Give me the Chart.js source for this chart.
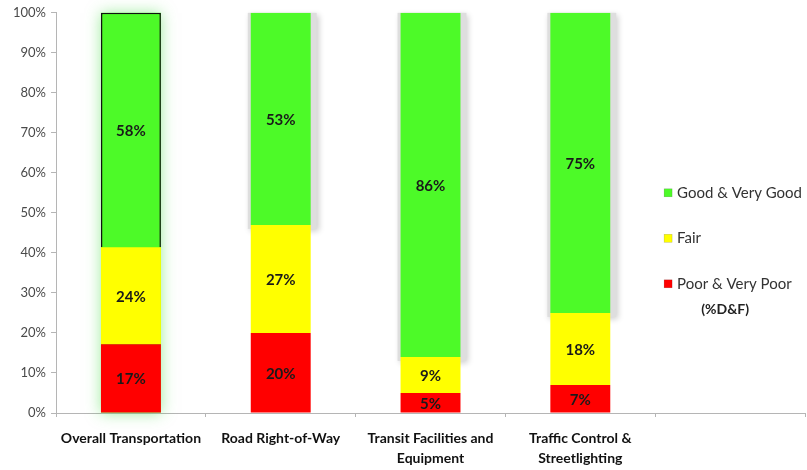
<!DOCTYPE html>
<html>
<head>
<meta charset="utf-8">
<script src="https://cdn.jsdelivr.net/npm/chart.js@4.4.1/dist/chart.umd.min.js"></script>
<style>
  html, body { margin: 0; padding: 0; background: #fff; }
  #wrap { width: 807px; height: 470px; position: relative; }
</style>
</head>
<body>
<div id="wrap"><canvas id="rating"></canvas></div>
<script>
// categories (last slot left empty, legend sits there)
const categories = [
  'Overall Transportation',
  'Road Right-of-Way',
  ['Transit Facilities and', 'Equipment'],
  ['Traffic Control &', 'Streetlighting'],
  ''
];
const poorValues = [17, 20, 5, 7];
const fairValues = [24, 27, 9, 18];
const goodValues = [58, 53, 86, 75];
const yTicks = [0, 10, 20, 30, 40, 50, 60, 70, 80, 90, 100];

// 100% stacked: scale each column to its total
const totals = poorValues.map((v, i) => v + fairValues[i] + goodValues[i]);
const toShare = arr => arr.map((v, i) => v / totals[i] * 100);

const labelFont = "Lato, 'Open Sans', Arial, sans-serif";

// shadows / glow behind the bars
const barShadow = {
  id: 'barShadow',
  beforeDatasetsDraw(chart) {
    const ctx = chart.ctx;
    const red = chart.getDatasetMeta(0).data;
    const green = chart.getDatasetMeta(2).data;
    green.forEach((el, i) => {
      const p = el.getProps(['x', 'y', 'width', 'base'], true);
      const left = p.x - p.width / 2;
      ctx.save();
      if (i === 0) {
        const bottom = red[i].getProps(['base'], true).base;
        ctx.shadowColor = 'rgba(60, 220, 60, 0.5)';
        ctx.shadowBlur = 14;
        ctx.fillStyle = '#4dfa28';
        ctx.fillRect(left, p.y, p.width, bottom - p.y);
      } else {
        ctx.shadowColor = 'rgba(0, 0, 0, 0.2)';
        ctx.shadowBlur = 6;
        ctx.shadowOffsetX = 2;
        ctx.shadowOffsetY = 2;
        ctx.fillStyle = '#dedede';
        ctx.fillRect(left - 3, p.y, p.width + 9, p.base - p.y + 4);
      }
      ctx.restore();
    });
  }
};

// value labels in each segment
const segmentLabels = {
  id: 'segmentLabels',
  afterDatasetsDraw(chart) {
    const ctx = chart.ctx;
    const raw = [poorValues, fairValues, goodValues];
    ctx.save();
    ctx.font = "bold 15px " + labelFont;
    ctx.fillStyle = '#1a1a1a';
    ctx.textAlign = 'center';
    ctx.textBaseline = 'middle';
    chart.data.datasets.forEach((ds, d) => {
      chart.getDatasetMeta(d).data.forEach((el, i) => {
        if (raw[d][i] === undefined) return;
        const p = el.getProps(['x', 'y', 'base'], true);
        ctx.fillText(raw[d][i] + '%', p.x, (p.y + p.base) / 2 + 1);
      });
    });
    ctx.restore();
  }
};

// legend drawn in the empty fifth slot
const sideLegend = {
  id: 'sideLegend',
  afterDraw(chart) {
    const ctx = chart.ctx;
    const x = chart.scales.x.getPixelForValue(4) - 66;
    const top = chart.chartArea.top;
    const rows = [2, 1, 0];
    ctx.save();
    ctx.textBaseline = 'middle';
    rows.forEach((d, k) => {
      const ds = chart.data.datasets[d];
      const y = top + 180 + k * 45.5;
      ctx.fillStyle = ds.backgroundColor;
      ctx.fillRect(x, y - 4, 8, 8);
      ctx.strokeStyle = 'rgba(0,0,0,0.25)';
      ctx.lineWidth = 0.5;
      ctx.strokeRect(x, y - 4, 8, 8);
      ctx.fillStyle = '#333';
      ctx.font = "15px " + labelFont;
      ctx.textAlign = 'left';
      ctx.fillText(ds.label, x + 13, y);
    });
    ctx.font = "bold 14px " + labelFont;
    ctx.fillStyle = '#222';
    ctx.textAlign = 'center';
    ctx.fillText('(%D&F)', x + 61, top + 297);
    ctx.restore();
  }
};

new Chart(document.getElementById('rating'), {
  type: 'bar',
  data: {
    labels: categories,
    datasets: [{
      label: 'Poor & Very Poor',
      data: toShare(poorValues),
      backgroundColor: '#ff0000',
      borderWidth: 0
    }, {
      label: 'Fair',
      data: toShare(fairValues),
      backgroundColor: '#ffff00',
      borderWidth: 0
    }, {
      label: 'Good & Very Good',
      data: toShare(goodValues),
      backgroundColor: '#4dfa28',
      borderColor: ctx => ctx.dataIndex === 0 ? '#111' : '#4dfa28',
      borderWidth: ctx => ctx.dataIndex === 0 ? 1.5 : 0
    }]
  },
  options: {
    responsive: true,
    maintainAspectRatio: false,
    animation: false,
    layout: { padding: { top: 6, right: 2, left: 8, bottom: 0 } },
    datasets: { bar: { categoryPercentage: 1, barPercentage: 0.4 } },
    plugins: {
      legend: { display: false },
      tooltip: { enabled: false }
    },
    scales: {
      x: {
        stacked: true,
        afterFit: axis => { axis.height = 57; },
        grid: {
          display: true,
          drawOnChartArea: false,
          drawTicks: true,
          tickLength: 4,
          color: '#b5b5b5'
        },
        border: { color: '#b5b5b5' },
        ticks: {
          color: '#111',
          padding: 11,
          maxRotation: 0,
          autoSkip: false,
          font: { family: labelFont, size: 14, weight: 'bold', lineHeight: '20px' }
        }
      },
      y: {
        stacked: true,
        min: 0,
        max: 100,
        afterBuildTicks: axis => { axis.ticks = yTicks.map(v => ({ value: v })); },
        grid: {
          display: true,
          drawOnChartArea: false,
          drawTicks: true,
          tickLength: 5,
          color: '#b5b5b5'
        },
        border: { color: '#b5b5b5' },
        ticks: {
          color: '#4a4a4a',
          padding: 5,
          font: { family: labelFont, size: 13 },
          callback: v => v + '%'
        }
      }
    }
  },
  plugins: [barShadow, segmentLabels, sideLegend]
});
</script>
</body>
</html>
